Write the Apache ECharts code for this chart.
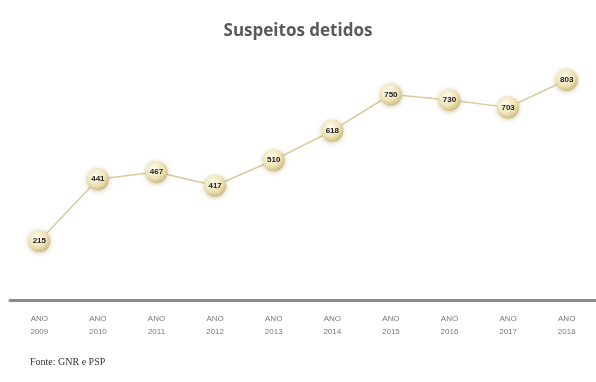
<!DOCTYPE html>
<html><head><meta charset="utf-8">
<script src="https://cdn.jsdelivr.net/npm/echarts@6/dist/echarts.min.js"></script>
<style>html,body{margin:0;padding:0;background:#fff}#c{width:596px;height:382px}</style>
</head><body><div id="c"></div>
<script>
const years = ['2009','2010','2011','2012','2013','2014','2015','2016','2017','2018'];
const tickLabels = years.map(y => 'ANO\n' + y);
const detidos = [215, 441, 467, 417, 510, 618, 750, 730, 703, 803];

const chart = echarts.init(document.getElementById('c'));
chart.setOption({
  backgroundColor: '#fff',
  title: {
    text: 'Suspeitos detidos', left: 'center', top: 18,
    textStyle: { fontFamily: 'Open Sans', fontWeight: 'bold', fontSize: 17, color: '#5a5a5a' }
  },
  graphic: [{
    type: 'text', left: 30, top: 357,
    style: { text: 'Fonte: GNR e PSP', font: '10px "Liberation Serif"', fill: '#333' }
  }],
  grid: { left: 10, right: -12, top: 26, bottom: 82 },
  xAxis: {
    type: 'category', data: tickLabels, boundaryGap: true,
    axisLine: { lineStyle: { color: '#8a8a8a', width: 3 } },
    axisTick: { show: false },
    axisLabel: { color: '#7a7a7a', fontSize: 8, fontFamily: 'Liberation Sans', lineHeight: 13, margin: 12 }
  },
  yAxis: { type: 'value', min: 0, max: 1000, show: false, splitLine: { show: false } },
  series: [{
    type: 'line', data: detidos,
    symbol: 'circle', symbolSize: 22,
    lineStyle: { color: '#dcc89c', width: 1.5 },
    itemStyle: {
      color: new echarts.graphic.RadialGradient(0.4, 0.35, 0.7, [
        { offset: 0, color: '#fffdf0' },
        { offset: 0.6, color: '#efe4b8' },
        { offset: 1, color: '#c9b677' }
      ]),
      borderWidth: 0,
      shadowBlur: 5, shadowColor: 'rgba(150,130,70,0.45)', shadowOffsetY: 1
    },
    label: {
      show: true, position: 'inside', color: '#222', fontWeight: 'bold',
      fontSize: 8, fontFamily: 'Liberation Sans'
    },
    animation: false
  }]
});
</script></body></html>
